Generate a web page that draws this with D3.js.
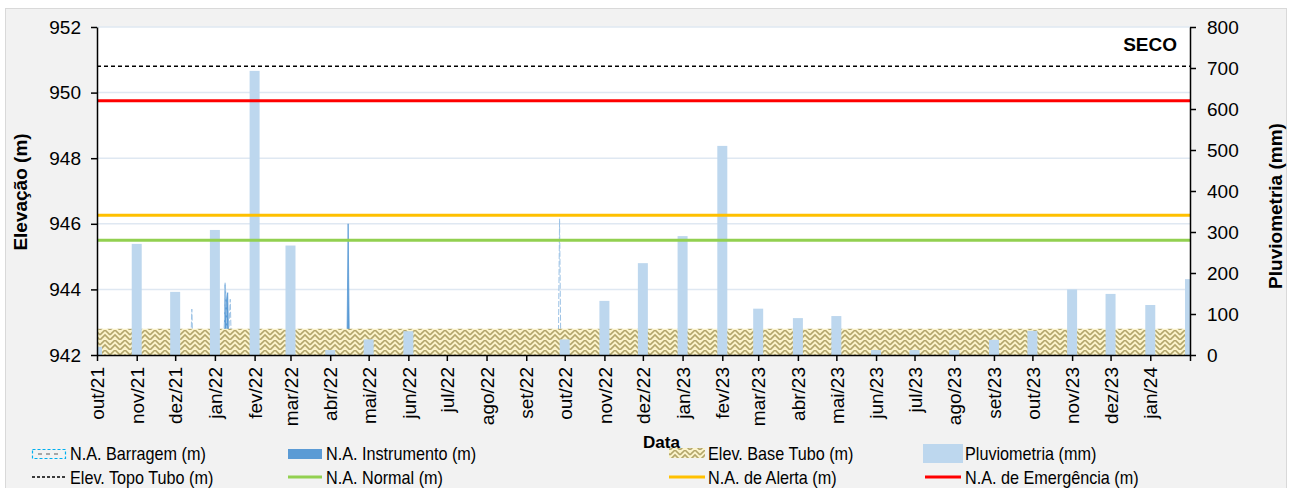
<!DOCTYPE html>
<html>
<head>
<meta charset="utf-8">
<script src="https://cdnjs.cloudflare.com/ajax/libs/d3/7.8.5/d3.min.js"></script>
<style>
    body { margin: 0; background: #ffffff; }
    svg text { font-family: Arial, "Liberation Sans", sans-serif; fill: #000; }
</style>
</head>
<body>
<div id="chart"></div>
<script>
// nomes dos meses (rótulos do eixo x)
var monthNames = ["jan", "fev", "mar", "abr", "mai", "jun", "jul", "ago", "set", "out", "nov", "dez"];

// pluviometria mensal (mm)
var pluvioMonths = ["2021-10", "2021-11", "2021-12", "2022-01", "2022-02", "2022-03", "2022-04", "2022-05",
    "2022-06", "2022-07", "2022-08", "2022-09", "2022-10", "2022-11", "2022-12", "2023-01", "2023-02",
    "2023-03", "2023-04", "2023-05", "2023-06", "2023-07", "2023-08", "2023-09", "2023-10", "2023-11",
    "2023-12", "2024-01", "2024-02"];
var pluvioValues = [20, 271, 154, 305, 693, 267, 12, 38, 58, 0, 0, 0, 38, 132, 224, 290, 510,
    113, 90, 95, 12, 12, 12, 37, 59, 160, 149, 122, 185];

// N.A. Instrumento (m)
var instrDates = ["2021-10-01", "2022-01-08", "2022-01-09", "2022-01-10", "2022-01-11", "2022-01-12",
    "2022-04-14", "2022-04-15", "2022-04-16", "2024-02-01"];
var instrValues = [942.0, 942.0, 944.15, 943.6, 943.9, 942.0, 942.0, 946.0, 942.0, 942.0];

// N.A. Barragem (m)
var barragemDates = ["2021-10-01", "2021-12-13", "2021-12-14", "2021-12-15", "2022-01-08", "2022-01-09",
    "2022-01-11", "2022-01-13", "2022-01-14", "2022-09-26", "2022-09-27", "2022-09-28", "2024-02-01"];
var barragemValues = [942.03, 942.03, 943.4, 942.03, 942.03, 944.2, 942.03, 943.7, 942.03,
    942.03, 946.15, 942.03, 942.03];

// níveis de referência (m)
var topoTubo = 950.8,
    naEmergencia = 949.75,
    naAlerta = 946.26,
    naNormal = 945.5,
    baseTubo = 942.8;

var elevTicks = [942, 944, 946, 948, 950, 952];
var pluvioTicks = [0, 100, 200, 300, 400, 500, 600, 700, 800];

var legendRow1 = ["N.A. Barragem (m)", "N.A. Instrumento (m)", "Elev. Base Tubo (m)", "Pluviometria (mm)"];
var legendRow2 = ["Elev. Topo Tubo (m)", "N.A. Normal (m)", "N.A. de Alerta (m)", "N.A. de Emergência (m)"];

(function () {
    var width = 1291, height = 488;
    var plot = { left: 97, top: 27, right: 1190, bottom: 355 };
    var parseDay = d3.timeParse("%Y-%m-%d"),
        parseMonth = d3.timeParse("%Y-%m");

    var svg = d3.select("#chart").append("svg")
        .attr("width", width)
        .attr("height", height);

    var defs = svg.append("defs");
    defs.append("clipPath").attr("id", "plotClip")
        .append("rect")
        .attr("x", plot.left).attr("y", plot.top)
        .attr("width", plot.right - plot.left)
        .attr("height", plot.bottom - plot.top);

    // padrão "trama" da base do tubo
    var pat = defs.append("pattern").attr("id", "weave")
        .attr("patternUnits", "userSpaceOnUse")
        .attr("width", 10).attr("height", 10);
    pat.append("rect").attr("width", 10).attr("height", 10).attr("fill", "#fcf4cc");
    pat.append("path")
        .attr("d", "M0,10 L5,5 L10,10 M0,5 L5,0 L10,5")
        .attr("fill", "none").attr("stroke", "#b3a66c").attr("stroke-width", 1.6);

    // fundo
    svg.append("rect")
        .attr("x", 5.5).attr("y", 8.5)
        .attr("width", 1281).attr("height", 490)
        .attr("fill", "#f2f2f2").attr("stroke", "#d9d9d9");
    svg.append("rect")
        .attr("x", plot.left).attr("y", plot.top)
        .attr("width", plot.right - plot.left)
        .attr("height", plot.bottom - plot.top)
        .attr("fill", "#ffffff");

    var x = d3.scaleTime()
        .domain([new Date(2021, 9, 1), new Date(2024, 1, 1)])
        .range([plot.left, plot.right]);
    var yL = d3.scaleLinear().domain([942, 952]).range([plot.bottom, plot.top]);
    var yR = d3.scaleLinear().domain([0, 800]).range([plot.bottom, plot.top]);

    // grade
    svg.append("g").selectAll("line")
        .data(elevTicks.slice(1))
        .enter().append("line")
        .attr("x1", plot.left).attr("x2", plot.right)
        .attr("y1", function (d) { return yL(d); })
        .attr("y2", function (d) { return yL(d); })
        .attr("stroke", "#dfe8f2").attr("stroke-width", 1.5);

    var g = svg.append("g").attr("clip-path", "url(#plotClip)");

    var instr = instrDates.map(function (d, i) { return { date: parseDay(d), value: instrValues[i] }; });
    var barragem = barragemDates.map(function (d, i) { return { date: parseDay(d), value: barragemValues[i] }; });
    var pluvio = pluvioMonths.map(function (d, i) { return { date: parseMonth(d), value: pluvioValues[i] }; });

    // N.A. Instrumento
    g.append("path")
        .datum(instr)
        .attr("fill", "#5b9bd5")
        .attr("stroke", "#5b9bd5")
        .attr("stroke-width", 0.8)
        .attr("d", d3.area()
            .x(function (d) { return x(d.date); })
            .y0(yL(942))
            .y1(function (d) { return yL(d.value); }));

    // N.A. Barragem
    g.append("path")
        .datum(barragem)
        .attr("fill", "none")
        .attr("stroke", "#9dc3e6")
        .attr("stroke-width", 1)
        .attr("stroke-dasharray", "6,2")
        .attr("d", d3.line()
            .x(function (d) { return x(d.date); })
            .y(function (d) { return yL(d.value); }));

    // Elev. Base Tubo
    g.append("path")
        .datum(x.domain())
        .attr("fill", "url(#weave)")
        .attr("d", d3.area()
            .x(function (d) { return x(d); })
            .y0(yL(942))
            .y1(yL(baseTubo)));

    // Pluviometria
    g.selectAll(".bar")
        .data(pluvio)
        .enter().append("rect")
        .attr("class", "bar")
        .attr("x", function (d) { return x(d.date) - 5; })
        .attr("width", 10)
        .attr("y", function (d) { return yR(d.value); })
        .attr("height", function (d) { return yR(0) - yR(d.value); })
        .attr("fill", "#bdd7ee");

    // linhas de referência
    var refLines = [
        { v: topoTubo, color: "#000000", w: 1.5, dash: "4,3" },
        { v: naNormal, color: "#92d050", w: 3, dash: null },
        { v: naAlerta, color: "#ffc000", w: 3, dash: null },
        { v: naEmergencia, color: "#ff0000", w: 3, dash: null }
    ];
    g.selectAll(".ref")
        .data(refLines)
        .enter().append("line")
        .attr("class", "ref")
        .attr("x1", plot.left).attr("x2", plot.right)
        .attr("y1", function (d) { return yL(d.v); })
        .attr("y2", function (d) { return yL(d.v); })
        .attr("stroke", function (d) { return d.color; })
        .attr("stroke-width", function (d) { return d.w; })
        .attr("stroke-dasharray", function (d) { return d.dash; });

    // eixos
    var yAxisL = svg.append("g")
        .attr("transform", "translate(" + plot.left + ",0)")
        .call(d3.axisLeft(yL).tickValues(elevTicks).tickSize(6).tickSizeOuter(0).tickPadding(10));
    var yAxisR = svg.append("g")
        .attr("transform", "translate(" + plot.right + ",0)")
        .call(d3.axisRight(yR).tickValues(pluvioTicks).tickSize(6).tickSizeOuter(0).tickPadding(11));

    var monthTicks = d3.timeMonth.range(new Date(2021, 9, 1), new Date(2024, 1, 2));
    var xAxis = svg.append("g")
        .attr("transform", "translate(0," + plot.bottom + ")")
        .call(d3.axisBottom(x).tickValues(monthTicks).tickSize(6).tickSizeOuter(0)
            .tickFormat(function (d) {
                if (d >= new Date(2024, 1, 1)) return "";
                return monthNames[d.getMonth()] + "/" + String(d.getFullYear()).slice(2);
            }));
    xAxis.selectAll("text")
        .attr("y", 0)
        .attr("x", -12)
        .attr("dy", "0.35em")
        .attr("transform", "rotate(-90)")
        .style("text-anchor", "end");

    [yAxisL, yAxisR, xAxis].forEach(function (a) {
        a.selectAll("text").style("font-size", "19px").attr("font-family", null);
        a.selectAll("path, line").attr("stroke", "#000").attr("stroke-width", 1.5);
    });

    // títulos
    svg.append("text")
        .attr("transform", "translate(27,192) rotate(-90)")
        .attr("text-anchor", "middle")
        .style("font-size", "19px").style("font-weight", "bold")
        .text("Elevação (m)");
    svg.append("text")
        .attr("transform", "translate(1282,206) rotate(-90)")
        .attr("text-anchor", "middle")
        .style("font-size", "19px").style("font-weight", "bold")
        .text("Pluviometria (mm)");
    svg.append("text")
        .attr("x", 1177).attr("y", 51)
        .attr("text-anchor", "end")
        .style("font-size", "19px").style("font-weight", "bold")
        .text("SECO");
    svg.append("text")
        .attr("x", 643).attr("y", 448)
        .style("font-size", "17px").style("font-weight", "bold")
        .text("Data");

    // legenda
    var textX = [70, 326, 708, 965];
    var leg = svg.append("g");

    leg.append("rect").attr("x", 32.5).attr("y", 449.5).attr("width", 33).attr("height", 9)
        .attr("fill", "none").attr("stroke", "#00b0f0").attr("stroke-width", 1.2)
        .attr("stroke-dasharray", "3,2");
    leg.append("line").attr("x1", 38).attr("x2", 62).attr("y1", 454).attr("y2", 454)
        .attr("stroke", "#a6a6a6").attr("stroke-width", 2).attr("stroke-dasharray", "4,4");
    leg.append("rect").attr("x", 288).attr("y", 449).attr("width", 34).attr("height", 10).attr("fill", "#5b9bd5");
    leg.append("rect").attr("x", 669).attr("y", 448).attr("width", 36).attr("height", 10).attr("fill", "url(#weave)");
    leg.append("rect").attr("x", 923).attr("y", 444).attr("width", 40).attr("height", 19).attr("fill", "#bdd7ee");

    var row2Lines = [
        { x1: 32, x2: 66, color: "#000000", w: 1.5, dash: "3,2" },
        { x1: 288, x2: 322, color: "#92d050", w: 3, dash: null },
        { x1: 669, x2: 705, color: "#ffc000", w: 3, dash: null },
        { x1: 925, x2: 961, color: "#ff0000", w: 3, dash: null }
    ];
    leg.selectAll(".legline")
        .data(row2Lines)
        .enter().append("line")
        .attr("x1", function (d) { return d.x1; })
        .attr("x2", function (d) { return d.x2; })
        .attr("y1", 477).attr("y2", 477)
        .attr("stroke", function (d) { return d.color; })
        .attr("stroke-width", function (d) { return d.w; })
        .attr("stroke-dasharray", function (d) { return d.dash; });

    [legendRow1, legendRow2].forEach(function (row, r) {
        leg.selectAll(".lt" + r)
            .data(row)
            .enter().append("text")
            .attr("transform", function (d, i) {
                return "translate(" + textX[i] + "," + (r === 0 ? 460 : 483.5) + ") scale(0.9,1)";
            })
            .style("font-size", "18px")
            .text(function (d) { return d; });
    });
})();
</script>
</body>
</html>
